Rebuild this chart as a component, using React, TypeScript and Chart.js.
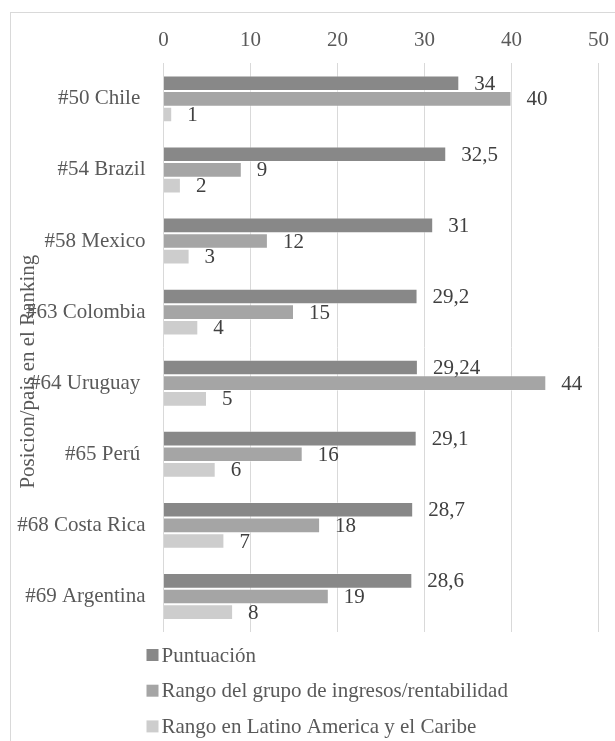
import React, { useEffect, useRef } from 'react';
import { Chart, registerables } from 'chart.js';

Chart.register(...registerables);

const categories = ['#50 Chile ', '#54 Brazil', '#58 Mexico', '#63 Colombia', '#64 Uruguay ', '#65 Perú ', '#68 Costa Rica', '#69 Argentina'];
const puntuacion = [34, 32.5, 31, 29.2, 29.24, 29.1, 28.7, 28.6];
const rangoGrupo = [40, 9, 12, 15, 44, 16, 18, 19];
const rangoLAC = [1, 2, 3, 4, 5, 6, 7, 8];
const seriesNames = ['Puntuación', 'Rango del grupo de ingresos/rentabilidad', 'Rango en Latino America y el Caribe'];
const seriesColors = ['#888888', '#a5a5a5', '#cdcdcd'];
const xMin = 0;
const xMax = 50;
const xStep = 10;
const axisTitle = 'Posicion/pais en el Ranking';

const FONT = "'Liberation Serif', 'Times New Roman', serif";
const FONT_SIZE = 21;
const TEXT_COLOR = '#595959';
const LABEL_COLOR = '#404040';
const GRID_COLOR = '#d9d9d9';

const fmt = (v: number) => String(v).replace('.', ',');

const extrasPlugin = {
  id: 'extras',
  afterDatasetsDraw(chart: any) {
    const ctx = chart.ctx;
    ctx.save();
    ctx.font = `${FONT_SIZE}px ${FONT}`;
    ctx.fillStyle = LABEL_COLOR;
    ctx.textAlign = 'left';
    ctx.textBaseline = 'middle';
    chart.data.datasets.forEach((ds: any, i: number) => {
      const meta = chart.getDatasetMeta(i);
      meta.data.forEach((bar: any, j: number) => {
        ctx.fillText(fmt(ds.data[j]), bar.x + 15, bar.y + 1);
      });
    });
    ctx.restore();
  },
  afterDraw(chart: any) {
    const ctx = chart.ctx;
    const area = chart.chartArea;
    ctx.save();
    ctx.font = `${FONT_SIZE}px ${FONT}`;
    ctx.fillStyle = TEXT_COLOR;
    ctx.textAlign = 'center';
    ctx.textBaseline = 'middle';
    ctx.translate(area.left - 135.5, (area.top + area.bottom) / 2 + 24);
    ctx.rotate(-Math.PI / 2);
    ctx.fillText(axisTitle, 0, 0);
    ctx.restore();

    ctx.save();
    ctx.font = `${FONT_SIZE}px ${FONT}`;
    ctx.textAlign = 'left';
    ctx.textBaseline = 'middle';
    chart.data.datasets.forEach((ds: any, i: number) => {
      const y = area.bottom + 23 + i * 35.7;
      ctx.fillStyle = ds.backgroundColor;
      ctx.fillRect(area.left - 17, y - 6, 12, 12);
      ctx.fillStyle = TEXT_COLOR;
      ctx.fillText(ds.label, area.left - 2, y + 1);
    });
    ctx.restore();
  },
};

export default function App() {
  const canvasRef = useRef<HTMLCanvasElement | null>(null);

  useEffect(() => {
    if (!canvasRef.current) return;
    const chart = new Chart(canvasRef.current, {
      type: 'bar',
      data: {
        labels: categories,
        datasets: [
          { label: seriesNames[0], data: puntuacion, backgroundColor: seriesColors[0] },
          { label: seriesNames[1], data: rangoGrupo, backgroundColor: seriesColors[1] },
          { label: seriesNames[2], data: rangoLAC, backgroundColor: seriesColors[2] },
        ].map((d) => ({
          ...d,
          borderColor: 'rgba(255,255,255,0.4)',
          borderWidth: 1,
          categoryPercentage: 0.66,
          barPercentage: 1,
        })),
      },
      options: {
        indexAxis: 'y',
        animation: false,
        responsive: false,
        devicePixelRatio: 1,
        layout: { padding: { top: 0, left: 0, right: 52.5, bottom: 161 } },
        plugins: {
          legend: { display: false },
          tooltip: { enabled: false },
          title: { display: false },
        },
        scales: {
          x: {
            position: 'top',
            min: xMin,
            max: xMax,
            ticks: {
              stepSize: xStep,
              padding: 10,
              color: TEXT_COLOR,
              font: { family: FONT, size: FONT_SIZE },
            },
            grid: { color: GRID_COLOR, lineWidth: 1, drawTicks: false },
            border: { display: false },
            afterFit: (s: any) => {
              s.height = 50.3;
            },
          },
          y: {
            ticks: {
              padding: 18,
              color: TEXT_COLOR,
              font: { family: FONT, size: FONT_SIZE },
            },
            grid: { display: false, drawTicks: false },
            border: { display: false },
            afterFit: (s: any) => {
              s.width = 152.5;
            },
          },
        },
      } as any,
      plugins: [extrasPlugin],
    });
    return () => chart.destroy();
  }, []);

  return (
    <div style={{ position: 'fixed', left: 0, top: 0, width: 615, height: 741, overflow: 'hidden', background: '#ffffff' }}>
      <div style={{ position: 'absolute', left: 10, top: 12, width: 640, height: 780, border: '1px solid #d9d9d9' }}>
        <canvas ref={canvasRef} width={640} height={780} style={{ display: 'block', width: 640, height: 780 }} />
      </div>
    </div>
  );
}
